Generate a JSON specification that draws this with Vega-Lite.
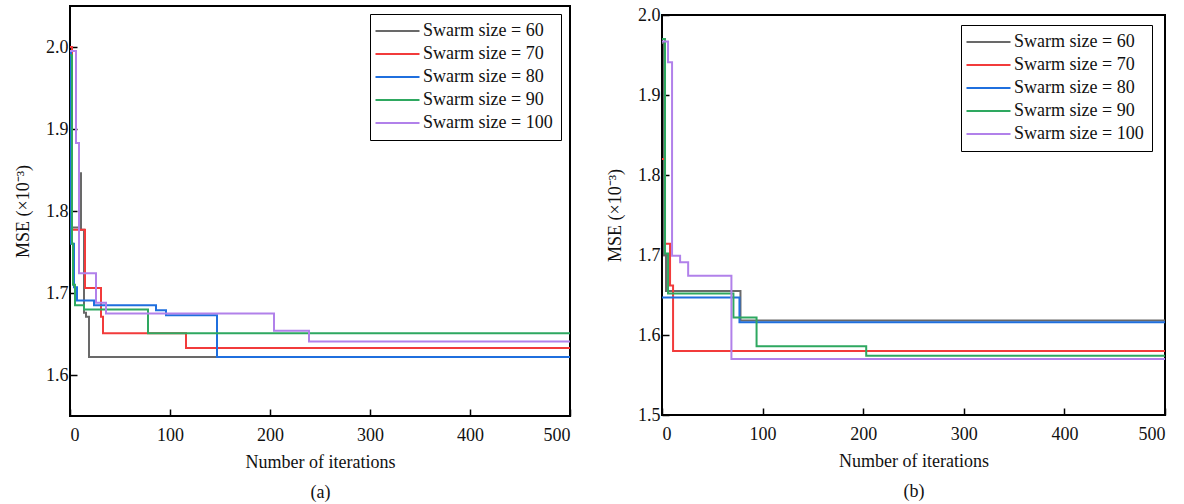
{
  "$schema": "https://vega.github.io/schema/vega-lite/v6.json",
  "padding": {"left": 13, "top": 5, "right": 0, "bottom": 0},
  "spacing": 33,
  "background": "white",
  "config": {
    "font": "Liberation Serif, Times New Roman, serif",
    "view": {"stroke": "black", "strokeWidth": 2},
    "axis": {
      "labelFont": "Liberation Serif, Times New Roman, serif", "labelFontSize": 18, "labelColor": "#111",
      "titleFont": "Liberation Serif, Times New Roman, serif", "titleFontSize": 18, "titleColor": "#111", "titleFontWeight": "normal",
      "grid": false, "domain": false, "tickColor": "black", "tickWidth": 1.5, "tickSize": -7, "labelPadding": 9
    },
    "legend": {
      "orient": "none", "direction": "vertical", "strokeColor": "black", "strokeWidth": 1,
      "padding": 8, "symbolType": "M-4,0H4", "symbolSize": 121, "symbolOffset": 10.5, "symbolStrokeWidth": 2,
      "labelFont": "Liberation Serif, Times New Roman, serif", "labelFontSize": 18, "labelColor": "#111", "labelOffset": 16.5,
      "rowPadding": 5, "fillColor": "white", "labelLimit": 300
    }
  },
  "data": {"values": [
    {"p":"a","s":"Swarm size = 60","i":0,"v":1.86},{"p":"a","s":"Swarm size = 60","i":1,"v":1.78},{"p":"a","s":"Swarm size = 60","i":9,"v":1.846},{"p":"a","s":"Swarm size = 60","i":11,"v":1.777},{"p":"a","s":"Swarm size = 60","i":14,"v":1.676},{"p":"a","s":"Swarm size = 60","i":16,"v":1.671},{"p":"a","s":"Swarm size = 60","i":19,"v":1.622},{"p":"a","s":"Swarm size = 60","i":500,"v":1.622},
    {"p":"a","s":"Swarm size = 70","i":0,"v":2.0},{"p":"a","s":"Swarm size = 70","i":2,"v":1.777},{"p":"a","s":"Swarm size = 70","i":15,"v":1.706},{"p":"a","s":"Swarm size = 70","i":31,"v":1.671},{"p":"a","s":"Swarm size = 70","i":33,"v":1.651},{"p":"a","s":"Swarm size = 70","i":116,"v":1.633},{"p":"a","s":"Swarm size = 70","i":500,"v":1.633},
    {"p":"a","s":"Swarm size = 80","i":0,"v":1.995},{"p":"a","s":"Swarm size = 80","i":1,"v":1.76},{"p":"a","s":"Swarm size = 80","i":4,"v":1.707},{"p":"a","s":"Swarm size = 80","i":7,"v":1.691},{"p":"a","s":"Swarm size = 80","i":24,"v":1.685},{"p":"a","s":"Swarm size = 80","i":86,"v":1.679},{"p":"a","s":"Swarm size = 80","i":96,"v":1.673},{"p":"a","s":"Swarm size = 80","i":147,"v":1.622},{"p":"a","s":"Swarm size = 80","i":500,"v":1.622},
    {"p":"a","s":"Swarm size = 90","i":0,"v":1.99},{"p":"a","s":"Swarm size = 90","i":2,"v":1.76},{"p":"a","s":"Swarm size = 90","i":3,"v":1.71},{"p":"a","s":"Swarm size = 90","i":5,"v":1.685},{"p":"a","s":"Swarm size = 90","i":14,"v":1.68},{"p":"a","s":"Swarm size = 90","i":78,"v":1.651},{"p":"a","s":"Swarm size = 90","i":500,"v":1.651},
    {"p":"a","s":"Swarm size = 100","i":0,"v":1.995},{"p":"a","s":"Swarm size = 100","i":6,"v":1.883},{"p":"a","s":"Swarm size = 100","i":9,"v":1.724},{"p":"a","s":"Swarm size = 100","i":26,"v":1.688},{"p":"a","s":"Swarm size = 100","i":36,"v":1.675},{"p":"a","s":"Swarm size = 100","i":204,"v":1.654},{"p":"a","s":"Swarm size = 100","i":239,"v":1.641},{"p":"a","s":"Swarm size = 100","i":500,"v":1.641},
    {"p":"b","s":"Swarm size = 60","i":0,"v":1.965},{"p":"b","s":"Swarm size = 60","i":2,"v":1.70},{"p":"b","s":"Swarm size = 60","i":4,"v":1.655},{"p":"b","s":"Swarm size = 60","i":78,"v":1.618},{"p":"b","s":"Swarm size = 60","i":500,"v":1.618},
    {"p":"b","s":"Swarm size = 70","i":0,"v":1.82},{"p":"b","s":"Swarm size = 70","i":3,"v":1.714},{"p":"b","s":"Swarm size = 70","i":8,"v":1.662},{"p":"b","s":"Swarm size = 70","i":11,"v":1.58},{"p":"b","s":"Swarm size = 70","i":500,"v":1.58},
    {"p":"b","s":"Swarm size = 80","i":0,"v":1.647},{"p":"b","s":"Swarm size = 80","i":77,"v":1.616},{"p":"b","s":"Swarm size = 80","i":500,"v":1.616},
    {"p":"b","s":"Swarm size = 90","i":0,"v":1.97},{"p":"b","s":"Swarm size = 90","i":3,"v":1.702},{"p":"b","s":"Swarm size = 90","i":6,"v":1.652},{"p":"b","s":"Swarm size = 90","i":71,"v":1.622},{"p":"b","s":"Swarm size = 90","i":94,"v":1.586},{"p":"b","s":"Swarm size = 90","i":203,"v":1.574},{"p":"b","s":"Swarm size = 90","i":500,"v":1.574},
    {"p":"b","s":"Swarm size = 100","i":0,"v":1.967},{"p":"b","s":"Swarm size = 100","i":6,"v":1.941},{"p":"b","s":"Swarm size = 100","i":10,"v":1.699},{"p":"b","s":"Swarm size = 100","i":18,"v":1.691},{"p":"b","s":"Swarm size = 100","i":26,"v":1.674},{"p":"b","s":"Swarm size = 100","i":69,"v":1.57},{"p":"b","s":"Swarm size = 100","i":500,"v":1.57}
  ]},
  "resolve": {"legend": {"color": "independent"}, "scale": {"y": "independent", "x": "independent"}},
  "hconcat": [
    {
      "width": 500, "height": 410,
      "transform": [{"filter": "datum.p === 'a'"}],
      "mark": {"type": "line", "interpolate": "step-after", "strokeWidth": 2, "clip": true},
      "encoding": {
        "x": {"field": "i", "type": "quantitative", "scale": {"domain": [0, 500], "nice": false},
              "axis": {"values": [0,100,200,300,400,500], "title": ["Number of iterations", "(a)"], "titleLineHeight": 30, "titlePadding": 9, "labelPadding": 17}},
        "y": {"field": "v", "type": "quantitative", "scale": {"domain": [1.55, 2.05], "nice": false, "zero": false},
              "axis": {"values": [1.6,1.7,1.8,1.9,2.0], "format": ".1f", "title": "MSE (×10⁻³)", "titlePadding": 13}},
        "color": {"field": "s", "type": "nominal",
                  "scale": {"domain": ["Swarm size = 60","Swarm size = 70","Swarm size = 80","Swarm size = 90","Swarm size = 100"],
                            "range": ["#696969","#f23b3b","#1f6fde","#2ea860","#b181ea"]},
                  "legend": {"title": null, "legendX": 300, "legendY": 8}},
        "order": {"field": "i", "type": "quantitative"}
      }
    },
    {
      "spacing": 8,
      "bounds": "flush",
      "resolve": {"legend": {"color": "independent"}},
      "vconcat": [
        {
          "width": 10, "height": 1,
          "data": {"values": []},
          "view": {"stroke": null},
          "mark": "point"
        },
        {
          "width": 503, "height": 400,
          "transform": [{"filter": "datum.p === 'b'"}],
          "mark": {"type": "line", "interpolate": "step-after", "strokeWidth": 2, "clip": true},
          "encoding": {
            "x": {"field": "i", "type": "quantitative", "scale": {"domain": [0, 500], "nice": false},
                  "axis": {"values": [0,100,200,300,400,500], "title": ["Number of iterations", "(b)"], "titleLineHeight": 30, "titlePadding": 9, "labelPadding": 17}},
            "y": {"field": "v", "type": "quantitative", "scale": {"domain": [1.5, 2.0], "nice": false, "zero": false},
                  "axis": {"values": [1.5,1.6,1.7,1.8,1.9,2.0], "format": ".1f", "title": "MSE (×10⁻³)", "titlePadding": 13}},
            "color": {"field": "s", "type": "nominal",
                      "scale": {"domain": ["Swarm size = 60","Swarm size = 70","Swarm size = 80","Swarm size = 90","Swarm size = 100"],
                                "range": ["#696969","#f23b3b","#1f6fde","#2ea860","#b181ea"]},
                      "legend": {"title": null, "legendX": 299, "legendY": 10}},
            "order": {"field": "i", "type": "quantitative"}
          }
        }
      ]
    }
  ]
}
